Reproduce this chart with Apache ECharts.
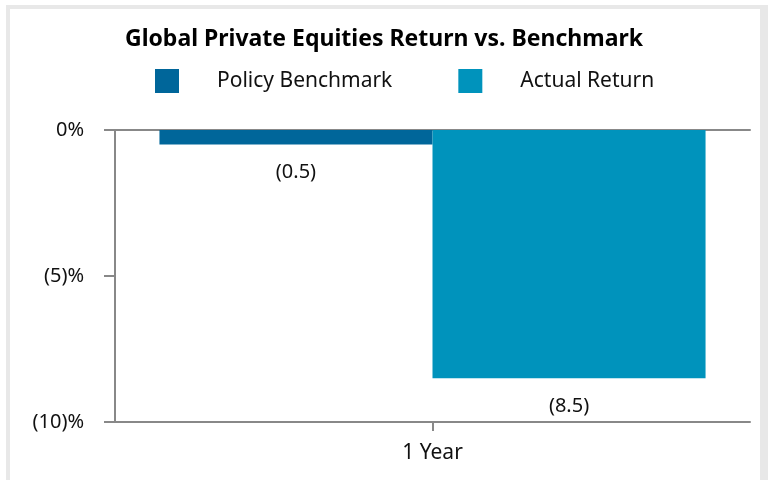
<!DOCTYPE html>
<html>
<head>
<meta charset="utf-8">
<script src="https://cdn.jsdelivr.net/npm/echarts@6/dist/echarts.min.js"></script>
<style>
  html, body { margin: 0; padding: 0; background: #fff; }
  #wrap { position: relative; width: 768px; height: 480px; overflow: hidden; }
  #frame { position: absolute; left: 6px; top: 5px; right: 0; bottom: -20px;
           border: 4px solid #e8e8e8; border-right-width: 8px; }
  #main { position: absolute; left: 0; top: 0; width: 768px; height: 480px; }
</style>
</head>
<body>
<div id="wrap">
  <div id="frame"></div>
  <div id="main"></div>
</div>
<script>
// 数据
var categories = ['1 Year'];
var policyBenchmark = [-0.5];
var actualReturn = [-8.5];
var seriesNames = ['Policy Benchmark', 'Actual Return'];

var fontName = '"Noto Sans", sans-serif';

function fmtNeg(v) {
    if (v < 0) return '(' + Math.abs(v) + ')';
    return '' + v;
}

var myChart = echarts.init(document.getElementById('main'));

var option = {
    backgroundColor: 'transparent',
    animation: false,
    title: {
        text: 'Global Private Equities Return vs. Benchmark',
        left: 'center',
        top: 23,
        textStyle: {
            fontFamily: fontName,
            fontWeight: 'bold',
            fontSize: 23,
            color: '#000'
        }
    },
    legend: {
        data: seriesNames,
        top: 64,
        left: 150,
        icon: 'rect',
        itemWidth: 24,
        itemHeight: 24,
        itemGap: 66,
        textStyle: {
            fontFamily: fontName,
            fontSize: 21,
            color: '#111',
            padding: [0, 0, 0, 33]
        }
    },
    grid: {
        left: 115,
        right: 18,
        top: 130,
        bottom: 58
    },
    xAxis: [{
        type: 'category',
        data: categories,
        position: 'bottom',
        axisLine: { onZero: false, lineStyle: { color: '#888', width: 2 } },
        axisTick: { show: true, alignWithLabel: true, length: 9, lineStyle: { color: '#888', width: 2 } },
        axisLabel: {
            margin: 21,
            fontFamily: fontName,
            fontSize: 21,
            color: '#111'
        }
    }, {
        type: 'category',
        data: categories,
        position: 'top',
        axisLine: { onZero: false, lineStyle: { color: '#888', width: 2 } },
        axisTick: { show: false },
        axisLabel: { show: false }
    }],
    yAxis: {
        type: 'value',
        min: -10,
        max: 0,
        interval: 5,
        axisLine: { show: true, lineStyle: { color: '#888', width: 2 } },
        axisTick: { show: true, length: 11, lineStyle: { color: '#888', width: 2 } },
        splitLine: { show: false },
        axisLabel: {
            margin: 31,
            fontFamily: fontName,
            fontSize: 20,
            color: '#111',
            formatter: function (v) {
                if (v < 0) return '(' + Math.abs(v) + ')%';
                return v + '%';
            }
        }
    },
    series: [{
        name: seriesNames[0],
        type: 'bar',
        data: policyBenchmark,
        barGap: 0,
        barCategoryGap: '14%',
        itemStyle: { color: '#00669a' },
        label: {
            show: true,
            position: 'bottom',
            distance: 18,
            fontFamily: fontName,
            fontSize: 20,
            color: '#111',
            formatter: function (p) { return fmtNeg(p.value); }
        }
    }, {
        name: seriesNames[1],
        type: 'bar',
        data: actualReturn,
        barGap: 0,
        barCategoryGap: '14%',
        itemStyle: { color: '#0093bc' },
        label: {
            show: true,
            position: 'bottom',
            distance: 18,
            fontFamily: fontName,
            fontSize: 20,
            color: '#111',
            formatter: function (p) { return fmtNeg(p.value); }
        }
    }]
};

myChart.setOption(option);
</script>
</body>
</html>
